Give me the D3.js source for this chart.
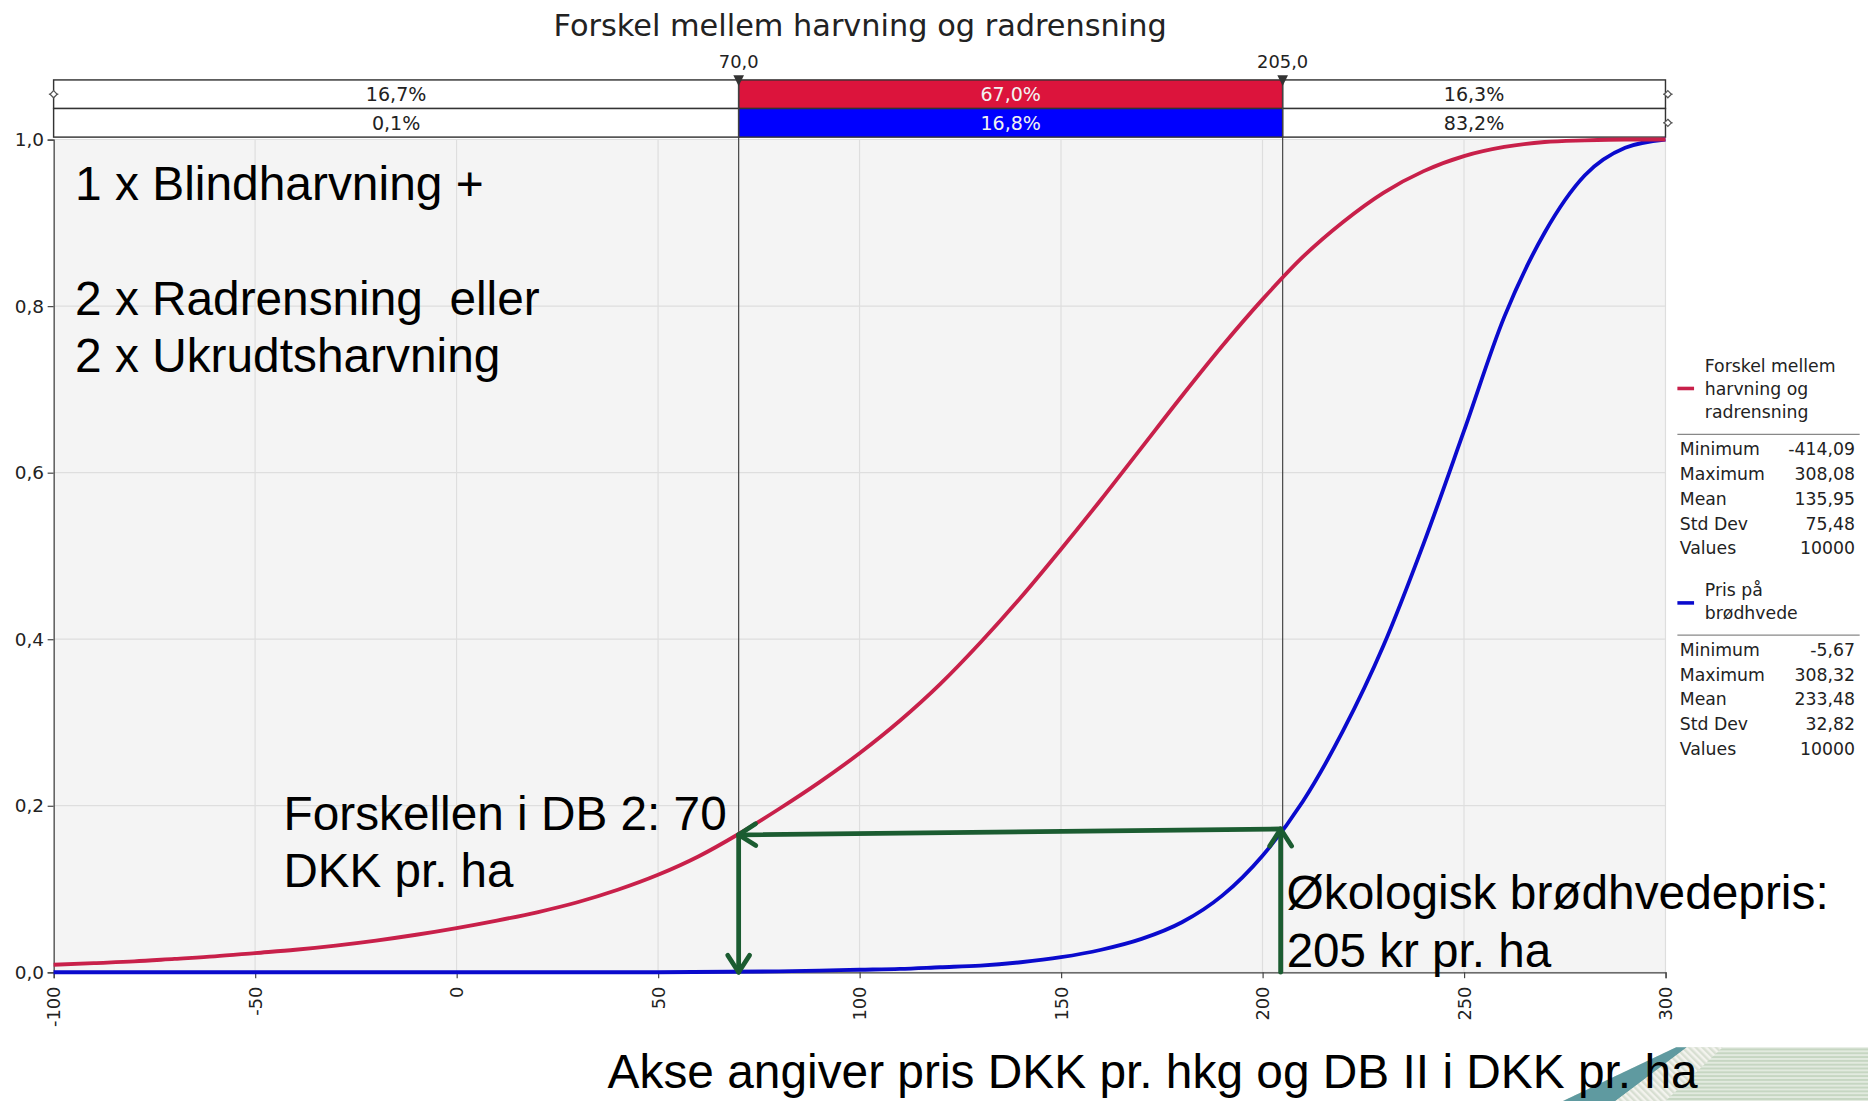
<!DOCTYPE html>
<html>
<head>
<meta charset="utf-8">
<script src="https://cdn.jsdelivr.net/npm/d3@7"></script>
<style>
  html, body { margin: 0; padding: 0; background: #ffffff; }
  svg { display: block; }
  text { white-space: pre; }
</style>
</head>
<body>
<svg id="chart"></svg>
<script>
// ---------------- DATA ----------------
const chartTitle = "Forskel mellem harvning og radrensning";
const xTicks = [-100, -50, 0, 50, 100, 150, 200, 250, 300];
const yTicks = [0, 0.2, 0.4, 0.6, 0.8, 1.0];
const cutLow = 70.0;
const cutHigh = 205.0;

// cumulative curve: Forskel mellem harvning og radrensning
const redX = [-100, -90, -80, -70, -60, -50, -40, -30, -20, -10, 0, 10, 20, 30, 40, 50, 60, 70, 80, 90, 100,
  110, 120, 130, 140, 150, 160, 170, 180, 190, 200, 210, 220, 230, 240, 250, 260, 270, 280, 290, 300];
const redY = [0.009, 0.011, 0.013, 0.016, 0.019, 0.023, 0.027, 0.032, 0.038, 0.045, 0.053, 0.062, 0.072, 0.084, 0.099, 0.117, 0.139, 0.166, 0.196, 0.228, 0.263,
  0.302, 0.346, 0.396, 0.450, 0.508, 0.568, 0.630, 0.692, 0.752, 0.808, 0.859, 0.901, 0.936, 0.962, 0.980, 0.991, 0.997, 0.999, 1.0, 1.0];

// cumulative curve: Pris på brødhvede
const blueX = [-100, 0, 50, 80, 90, 100, 110, 120, 130, 140, 150, 160, 170, 180, 190, 200, 210, 220, 230, 240, 250, 260, 270, 280, 290, 300];
const blueY = [0.0, 0.0, 0.0, 0.001, 0.002, 0.003, 0.004, 0.006, 0.008, 0.012, 0.018, 0.027, 0.040, 0.060, 0.092, 0.140, 0.205, 0.290, 0.392, 0.515, 0.650, 0.787, 0.888, 0.957, 0.990, 1.0];

// probability bands (left / middle / right)
const redBand = ["16,7%", "67,0%", "16,3%"];
const blueBand = ["0,1%", "16,8%", "83,2%"];

// legend
const seriesNames = [["Forskel mellem", "harvning og", "radrensning"], ["Pris på", "brødhvede"]];
const statLabels = ["Minimum", "Maximum", "Mean", "Std Dev", "Values"];
const redStats = ["-414,09", "308,08", "135,95", "75,48", "10000"];
const blueStats = ["-5,67", "308,32", "233,48", "32,82", "10000"];

// annotations
const noteTop = ["1 x Blindharvning +", "", "2 x Radrensning  eller", "2 x Ukrudtsharvning"];
const noteLeft = ["Forskellen i DB 2: 70", "DKK pr. ha"];
const noteRight = ["Økologisk brødhvedepris:", "205 kr pr. ha"];
const axisNote = "Akse angiver pris DKK pr. hkg og DB II i DKK pr. ha";
// arrows in data units: [x1, y1, x2, y2] (head at x2,y2)
const arrows = [
  [204.5, 0.0, 204.5, 0.172],
  [204.5, 0.172, 70, 0.165],
  [70, 0.165, 70, 0.0]
];

// ---------------- LAYOUT ----------------
const VW = 1568, VH = 924;
const svg = d3.select("#chart")
  .attr("width", 1868).attr("height", 1101)
  .attr("viewBox", `0 0 ${VW} ${VH}`);

const pLeft = 45, pRight = 1398, pTop = 117, pBottom = 816;
const x = d3.scaleLinear().domain([-100, 300]).range([pLeft, pRight]);
const y = d3.scaleLinear().domain([0, 1]).range([pBottom, pTop]);

const chartFont = "'DejaVu Sans', Verdana, sans-serif";
const noteFont = "'Liberation Sans', Arial, sans-serif";
const redBar = "#dc143c", blueBar = "#0000ff";
const redLine = "#c8204a", blueLine = "#0a0acd";
const green = "#1b5c31";

// defs: stripe patterns for logo
const defs = svg.append("defs");
const p1 = defs.append("pattern").attr("id", "hstripe").attr("patternUnits", "userSpaceOnUse").attr("width", 6).attr("height", 3.2);
p1.append("rect").attr("width", 6).attr("height", 3.2).attr("fill", "#e2eadf");
p1.append("rect").attr("width", 6).attr("height", 1.6).attr("fill", "#c6d6c2");
const p2 = defs.append("pattern").attr("id", "dstripe").attr("patternUnits", "userSpaceOnUse").attr("width", 4).attr("height", 4).attr("patternTransform", "rotate(-45)");
p2.append("rect").attr("width", 4).attr("height", 4).attr("fill", "#f3f3ee");
p2.append("rect").attr("width", 2).attr("height", 4).attr("fill", "#d8dfd2");

// logo (bottom-right decoration)
svg.append("polygon").attr("points", "1407,879 1568,879 1568,924 1312,924").attr("fill", "url(#hstripe)");
svg.append("polygon").attr("points", "1312,924 1407,879 1416,879 1356,924").attr("fill", "#5f9aa0");
svg.append("polygon").attr("points", "1356,924 1416,879 1446,879 1398,924").attr("fill", "url(#dstripe)");

// plot background
svg.append("rect").attr("x", pLeft).attr("y", pTop).attr("width", pRight - pLeft).attr("height", pBottom - pTop).attr("fill", "#f4f4f4");

// grid
svg.append("g").selectAll("line").data(xTicks).join("line")
  .attr("x1", d => x(d)).attr("x2", d => x(d)).attr("y1", pTop).attr("y2", pBottom)
  .attr("stroke", "#dedede").attr("stroke-width", 1);
svg.append("g").selectAll("line").data(yTicks).join("line")
  .attr("x1", pLeft).attr("x2", pRight).attr("y1", d => y(d)).attr("y2", d => y(d))
  .attr("stroke", "#dedede").attr("stroke-width", 1);

// axes
const fmtY = d => d3.format(".1f")(d).replace(".", ",");
const yAxis = svg.append("g").attr("transform", `translate(${pLeft},0)`)
  .call(d3.axisLeft(y).tickValues(yTicks).tickFormat(fmtY).tickSize(5).tickPadding(3));
yAxis.select(".domain").attr("stroke", "#444");
yAxis.selectAll(".tick line").attr("stroke", "#444");
yAxis.selectAll("text").attr("font-family", chartFont).attr("font-size", 15.5).attr("fill", "#222");

const xAxis = svg.append("g").attr("transform", `translate(0,${pBottom})`)
  .call(d3.axisBottom(x).tickValues(xTicks).tickFormat(d => String(d)).tickSize(5));
xAxis.select(".domain").attr("stroke", "#444");
xAxis.selectAll(".tick line").attr("stroke", "#444");
xAxis.selectAll("text")
  .attr("font-family", chartFont).attr("font-size", 15).attr("fill", "#222")
  .attr("transform", "rotate(-90)")
  .attr("text-anchor", "end")
  .attr("x", -12).attr("y", 0).attr("dy", "0.35em");

// top probability bands
const rowH = 24, row1 = 67, row2 = 91;
const segs = [[-100, cutLow], [cutLow, cutHigh], [cutHigh, 300]];
[[redBand, row1, redBar], [blueBand, row2, blueBar]].forEach(([labels, yy, col]) => {
  const g = svg.append("g");
  g.selectAll("rect").data(segs).join("rect")
    .attr("x", d => x(d[0])).attr("y", yy).attr("width", d => x(d[1]) - x(d[0])).attr("height", rowH)
    .attr("fill", (d, i) => i === 1 ? col : "#ffffff")
    .attr("stroke", "#333").attr("stroke-width", 1.2);
  g.selectAll("text").data(segs).join("text")
    .attr("x", d => (x(d[0]) + x(d[1])) / 2).attr("y", yy + 18)
    .attr("text-anchor", "middle")
    .attr("font-family", chartFont).attr("font-size", 16)
    .attr("fill", (d, i) => i === 1 ? "#f2f2f2" : "#222")
    .text((d, i) => labels[i]);
});

// small slider handles at the band ends
function handle(cx, cy) {
  svg.append("line").attr("x1", cx - 4).attr("x2", cx + 4).attr("y1", cy).attr("y2", cy).attr("stroke", "#555").attr("stroke-width", 1);
  svg.append("path").attr("d", `M${cx},${cy - 3} L${cx + 3},${cy} L${cx},${cy + 3} L${cx - 3},${cy} Z`).attr("fill", "#fff").attr("stroke", "#555").attr("stroke-width", 1);
}
handle(x(-100), row1 + rowH / 2);
handle(x(300) + 2, row1 + rowH / 2);
handle(x(300) + 2, row2 + rowH / 2);

// cut lines, triangles and labels
[cutLow, cutHigh].forEach(c => {
  svg.append("line").attr("x1", x(c)).attr("x2", x(c)).attr("y1", row1).attr("y2", pBottom)
    .attr("stroke", "#444").attr("stroke-width", 1);
  svg.append("path").attr("d", `M${x(c) - 4.5},${row1 - 4} L${x(c) + 4.5},${row1 - 4} L${x(c)},${row1 + 5} Z`).attr("fill", "#333");
  svg.append("text").attr("x", x(c)).attr("y", 57).attr("text-anchor", "middle")
    .attr("font-family", chartFont).attr("font-size", 15).attr("fill", "#222")
    .text(d3.format(".1f")(c).replace(".", ","));
});

// title
svg.append("text").attr("x", 722).attr("y", 30).attr("text-anchor", "middle")
  .attr("font-family", chartFont).attr("font-size", 25.5).attr("fill", "#222")
  .text(chartTitle);

// curves
const line = d3.line().x(d => x(d[0])).y(d => y(d[1])).curve(d3.curveMonotoneX);
svg.append("path").datum(blueX.map((v, i) => [v, blueY[i]]))
  .attr("d", line).attr("fill", "none").attr("stroke", blueLine).attr("stroke-width", 3.2);
svg.append("path").datum(redX.map((v, i) => [v, redY[i]]))
  .attr("d", line).attr("fill", "none").attr("stroke", redLine).attr("stroke-width", 3.2);

// legend
const lgX = 1408;
function legendBlock(names, stats, col, y0) {
  const sy = y0 + (names.length === 3 ? 19 : 11);
  svg.append("line").attr("x1", lgX).attr("x2", lgX + 14).attr("y1", sy).attr("y2", sy)
    .attr("stroke", col).attr("stroke-width", 3);
  names.forEach((n, i) => {
    svg.append("text").attr("x", lgX + 23).attr("y", y0 + 5 + i * 19.5)
      .attr("font-family", chartFont).attr("font-size", 14.5).attr("fill", "#222").text(n);
  });
  const sepY = y0 + names.length * 19.5 - 1;
  svg.append("line").attr("x1", lgX).attr("x2", 1561).attr("y1", sepY).attr("y2", sepY).attr("stroke", "#888").attr("stroke-width", 1);
  statLabels.forEach((s, i) => {
    const yy = sepY + 17.5 + i * 20.8;
    svg.append("text").attr("x", lgX + 2).attr("y", yy)
      .attr("font-family", chartFont).attr("font-size", 14.5).attr("fill", "#222").text(s);
    svg.append("text").attr("x", 1557).attr("y", yy).attr("text-anchor", "end")
      .attr("font-family", chartFont).attr("font-size", 14.5).attr("fill", "#222").text(stats[i]);
  });
}
legendBlock(seriesNames[0], redStats, redLine, 307);
legendBlock(seriesNames[1], blueStats, blueLine, 495);

// annotation texts (widths fitted to the reference)
const noteWidths = {
  "1 x Blindharvning +": 343, "2 x Radrensning  eller": 390, "2 x Ukrudtsharvning": 357,
  "Forskellen i DB 2: 70": 372, "DKK pr. ha": 193,
  "Økologisk brødhvedepris:": 455, "205 kr pr. ha": 222,
  "Akse angiver pris DKK pr. hkg og DB II i DKK pr. ha": 915
};
function note(t, x0, y0) {
  svg.append("text").attr("x", x0).attr("y", y0)
    .attr("font-family", noteFont).attr("font-size", 40).attr("fill", "#000")
    .attr("textLength", noteWidths[t]).attr("lengthAdjust", "spacingAndGlyphs")
    .text(t);
}
function noteLines(lines, x0, y0, dy) {
  lines.forEach((t, i) => { if (t) note(t, x0, y0 + i * dy); });
}
noteLines(noteTop, 63, 168, 48);
noteLines(noteLeft, 238, 697, 47.5);
noteLines(noteRight, 1080, 763, 49);
note(axisNote, 510, 913);

// green arrows
arrows.forEach(([a1, b1, a2, b2]) => {
  const X1 = x(a1), Y1 = y(b1), X2 = x(a2), Y2 = y(b2);
  const ang = Math.atan2(Y2 - Y1, X2 - X1);
  const L = 17, spread = Math.PI / 5.5;
  const p = (s) => [X2 - L * Math.cos(ang + s), Y2 - L * Math.sin(ang + s)];
  const g = svg.append("g").attr("stroke", green).attr("stroke-width", 4).attr("fill", "none").attr("stroke-linecap", "round");
  g.append("line").attr("x1", X1).attr("y1", Y1).attr("x2", X2).attr("y2", Y2);
  const pa = p(spread), pb = p(-spread);
  g.append("path").attr("d", `M${pa[0]},${pa[1]} L${X2},${Y2} L${pb[0]},${pb[1]}`).attr("stroke-linejoin", "round");
});
</script>
</body>
</html>
